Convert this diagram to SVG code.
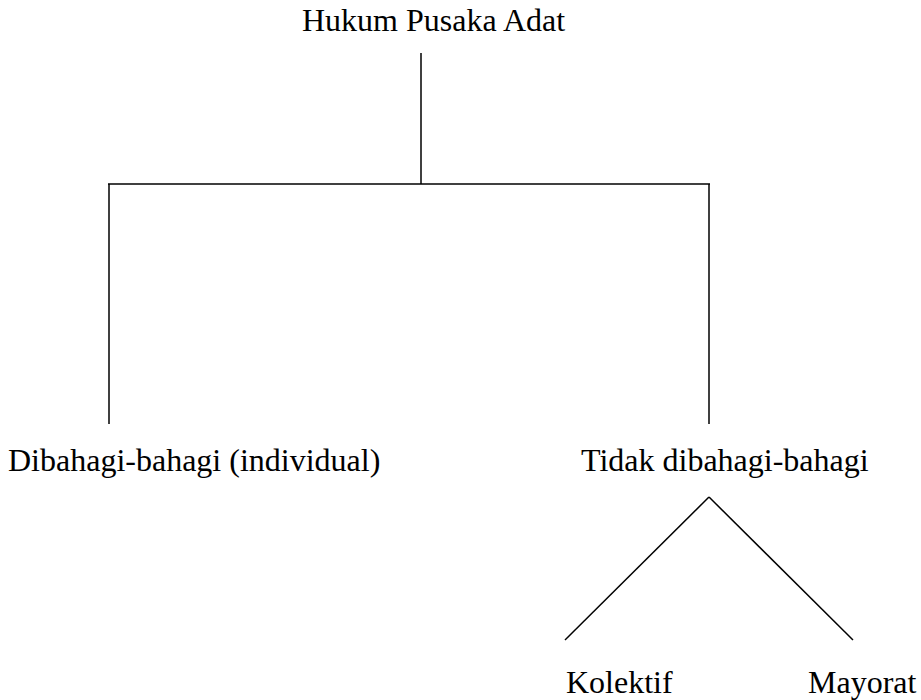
<svg xmlns="http://www.w3.org/2000/svg" width="921" height="700" viewBox="0 0 921 700">
<style>
text { font-family: "Liberation Serif", "Times New Roman", serif; font-size: 32px; fill: #000; }
.c { stroke: #000; stroke-width: 1.5; fill: none; }
</style>
<rect width="921" height="700" fill="#fff"/>
<g id="connectors">
<line class="c" x1="421" y1="53" x2="421" y2="184"/>
<line class="c" x1="108" y1="184" x2="710" y2="184"/>
<line class="c" x1="109" y1="184" x2="109" y2="424"/>
<line class="c" x1="709" y1="184" x2="709" y2="424"/>
<line class="c" x1="709" y1="497" x2="565" y2="640"/>
<line class="c" x1="709" y1="497" x2="853" y2="640"/>
</g>
<g id="root"><text x="302" y="31">Hukum Pusaka Adat</text></g>
<g id="individual"><text x="8" y="471">Dibahagi-bahagi (individual)</text></g>
<g id="tidak"><text x="581" y="471">Tidak dibahagi-bahagi</text></g>
<g id="kolektif"><text x="566" y="693">Kolektif</text></g>
<g id="mayorat"><text x="808" y="693">Mayorat</text></g>
</svg>
